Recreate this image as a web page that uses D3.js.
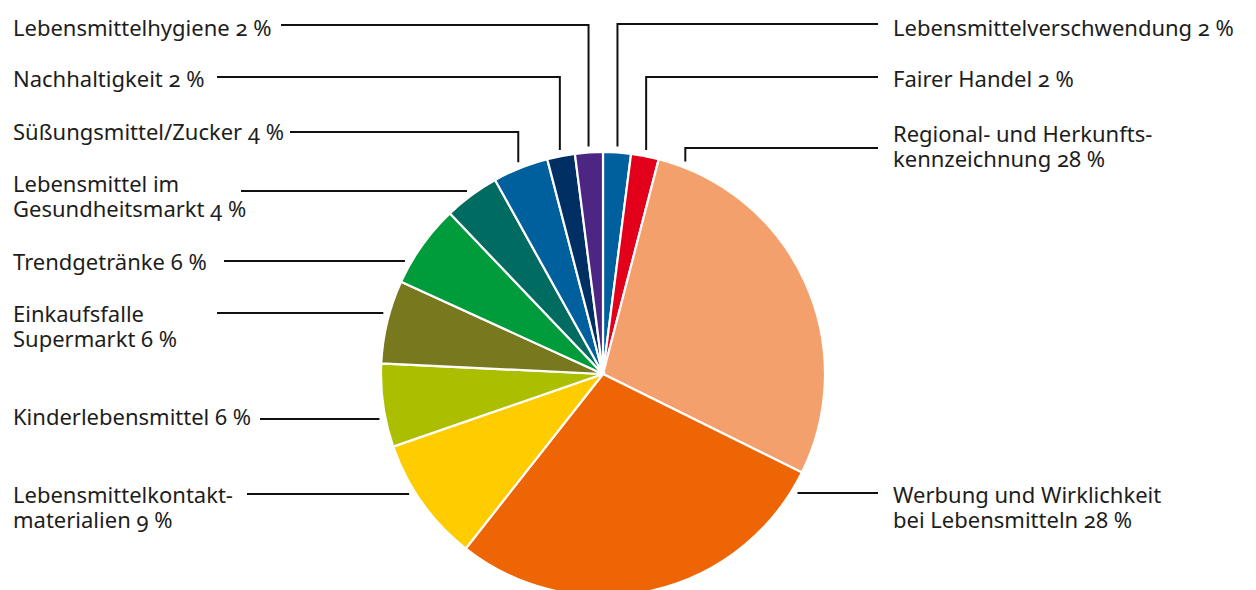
<!DOCTYPE html>
<html>
<head>
<meta charset="utf-8">
<script src="https://cdn.jsdelivr.net/npm/d3@7"></script>
<style>
  body { margin: 0; background: #fff; }
  text { font-family: "Noto Sans", sans-serif; font-size: 22px; fill: #1d1d1b; font-variant-numeric: oldstyle-nums; }
</style>
</head>
<body>
<div class="content"></div>
<script>
// categories, clockwise from 12 o'clock
var categories = ["Lebensmittelverschwendung", "Fairer Handel",
  "Regional- und Herkunfts-\nkennzeichnung", "Werbung und Wirklichkeit\nbei Lebensmitteln",
  "Lebensmittelkontakt-\nmaterialien", "Kinderlebensmittel", "Einkaufsfalle\nSupermarkt",
  "Trendgetränke", "Lebensmittel im\nGesundheitsmarkt", "Süßungsmittel/Zucker",
  "Nachhaltigkeit", "Lebensmittelhygiene"];
var shares = [2, 2, 28, 28, 9, 6, 6, 6, 4, 4, 2, 2];
var colors = ["#00609e", "#e2001a", "#f4a06c", "#ee6505", "#ffcc00", "#abbf00",
  "#78781f", "#009b3b", "#006c61", "#00609e", "#002f63", "#4d2683"];

// label layout: side, first baseline, leader y, leader kind, outer end of leader (left side)
var layout = [
  {side: "r", ty: 36,  ly: 24,  kind: "v"},
  {side: "r", ty: 87,  ly: 77,  kind: "v"},
  {side: "r", ty: 142, ly: 148, kind: "v", frac: 0.065},
  {side: "r", ty: 503, ly: 493, kind: "h"},
  {side: "l", ty: 503, ly: 494, kind: "h", x2: 247},
  {side: "l", ty: 425, ly: 419, kind: "h", x2: 260},
  {side: "l", ty: 322, ly: 313, kind: "h", x2: 217},
  {side: "l", ty: 270, ly: 261, kind: "h", x2: 224},
  {side: "l", ty: 192, ly: 191, kind: "h", x2: 241},
  {side: "l", ty: 140, ly: 132, kind: "v", x2: 290},
  {side: "l", ty: 87,  ly: 77,  kind: "v", x2: 217},
  {side: "l", ty: 36,  ly: 25,  kind: "v", x2: 281}
];

var W = 1256, H = 590, cx = 603, cy = 374, R = 222, gap = 6;

var svg = d3.select(".content").append("svg")
  .attr("width", W).attr("height", H);

var pie = d3.pie().sort(null).value(function(d) { return d; });
var arcs = pie(shares);
var arc = d3.arc().innerRadius(0).outerRadius(R);

svg.append("g").attr("transform", "translate(" + cx + "," + cy + ")")
  .selectAll("path").data(arcs).enter().append("path")
  .attr("d", arc)
  .attr("fill", function(d, i) { return colors[i]; })
  .attr("stroke", "#fff").attr("stroke-width", 2.2);

var lines = svg.append("g");
var labels = svg.append("g");

arcs.forEach(function(a, i) {
  var L = layout[i];
  var rr = R + gap;
  var pts;
  var outerX = L.side == "r" ? 878 : L.x2;
  if (L.kind == "v") {
    var f = L.frac == null ? 0.5 : L.frac;
    var ang = a.startAngle + (a.endAngle - a.startAngle) * f;
    var vx = cx + rr * Math.sin(ang);
    var vy = cy - Math.sqrt(rr * rr - (vx - cx) * (vx - cx));
    pts = [[outerX, L.ly], [vx, L.ly], [vx, vy]];
  } else {
    var dy = L.ly - cy;
    var dx = Math.sqrt(rr * rr - dy * dy);
    var px = L.side == "r" ? cx + dx : cx - dx;
    pts = [[outerX, L.ly], [px, L.ly]];
  }
  lines.append("path")
    .attr("d", d3.line()(pts))
    .attr("fill", "none").attr("stroke", "#111").attr("stroke-width", 2);

  var parts = categories[i].split("\n");
  parts[parts.length - 1] += " " + shares[i] + " %";
  var t = labels.append("text")
    .attr("x", L.side == "r" ? 893 : 13)
    .attr("y", L.ty);
  parts.forEach(function(s, k) {
    t.append("tspan").attr("x", L.side == "r" ? 893 : 13)
      .attr("dy", k == 0 ? 0 : 25).text(s);
  });
});
</script>
</body>
</html>
